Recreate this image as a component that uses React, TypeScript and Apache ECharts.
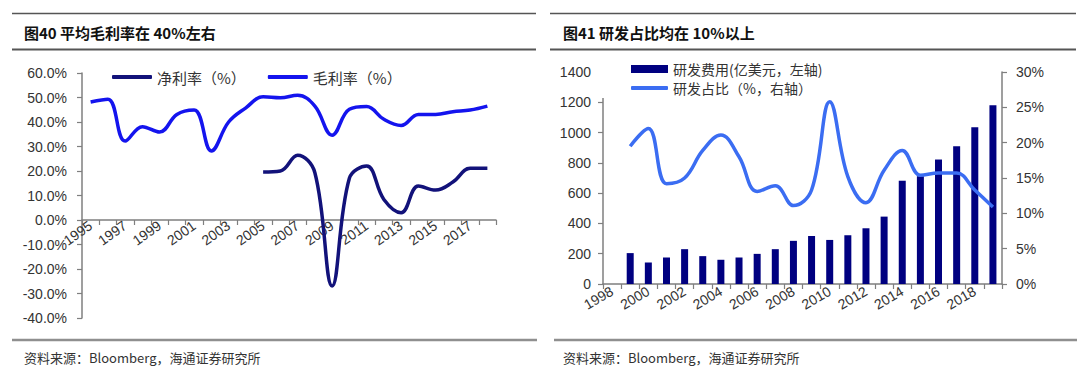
import React, { useEffect, useRef } from "react";
import * as echarts from "echarts";

// ---- Left chart data (图40) ----
const leftYears = ["1995","1996","1997","1998","1999","2000","2001","2002","2003","2004","2005","2006","2007","2008","2009","2010","2011","2012","2013","2014","2015","2016","2017","2018"];
const netMargin = [null,null,null,null,null,null,null,null,null,null,19.6,20.0,26.4,19.3,-26.9,17.0,22.0,8.4,3.0,13.9,12.2,15.5,21.1,21.1];
const grossMargin = [48.2,49.3,32.2,38.1,35.9,43.1,44.9,28.2,40.0,45.8,50.3,49.9,50.9,46.5,34.6,45.2,46.3,41.1,38.6,43.1,43.1,44.2,44.9,46.5];

// ---- Right chart data (图41) ----
const rightYears = ["1998","1999","2000","2001","2002","2003","2004","2005","2006","2007","2008","2009","2010","2011","2012","2013","2014","2015","2016","2017","2018","2019"];
const rdSpend = [null,204,142,175,230,184,160,175,199,230,285,317,291,322,368,445,682,712,822,910,1035,1180];
const rdRatio = [null,19.5,22.0,14.2,15.0,18.9,21.1,18.0,13.1,13.9,11.1,13.3,25.8,15.2,11.5,16.1,18.9,15.4,15.7,15.7,13.3,10.9];

const title1 = "图40 平均毛利率在 40%左右";
const title2 = "图41 研发占比均在 10%以上";
const source = "资料来源：Bloomberg，海通证券研究所";
const netName = "净利率（%）";
const grossName = "毛利率（%）";
const spendName = "研发费用(亿美元，左轴)";
const ratioName = "研发占比（%，右轴）";

const LATIN = "'Liberation Sans', Arial, 'Noto Sans CJK SC', sans-serif";
const CJK = "'Noto Sans CJK SC', 'Liberation Sans', sans-serif";
const AX = "#7f7f7f";
const LBL = "#333333";

export default function App() {
  const ref = useRef<HTMLDivElement>(null);
  useEffect(() => {
    if (!ref.current) return;
    const chart = echarts.init(ref.current, undefined, { renderer: "svg" });
    const tick = { show: true, length: 5, lineStyle: { color: AX, width: 1.2 } };
    const line = { show: true, onZero: false, lineStyle: { color: AX, width: 1.5 } };
    const option: any = {
      animation: false,
      backgroundColor: "#ffffff",
      textStyle: { fontFamily: LATIN },
      grid: [
        { left: 82, top: 73, width: 414, height: 245 },
        { left: 603, top: 72, width: 399, height: 212 },
      ],
      xAxis: [
        {
          type: "category", gridIndex: 0, data: leftYears, boundaryGap: true,
          position: "bottom", offset: -98,
          axisLine: line, splitLine: { show: false },
          axisTick: { ...tick, interval: 0 },
          axisLabel: { interval: 1, rotate: 35, fontSize: 14, color: LBL, fontFamily: LATIN, margin: 4 },
        },
        {
          type: "category", gridIndex: 1, data: rightYears, boundaryGap: true,
          axisLine: line, splitLine: { show: false },
          axisTick: { ...tick, interval: 0 },
          axisLabel: { interval: 1, rotate: 30, fontSize: 14, color: LBL, fontFamily: LATIN, margin: 6 },
        },
      ],
      yAxis: [
        {
          type: "value", gridIndex: 0, min: -40, max: 60, interval: 10,
          axisLine: line, axisTick: tick, splitLine: { show: false },
          axisLabel: { fontSize: 14, color: LBL, fontFamily: LATIN, margin: 15, formatter: (v: number) => v.toFixed(1) + "%" },
        },
        {
          type: "value", gridIndex: 1, min: 0, max: 1400, interval: 200,
          axisLine: line, axisTick: tick, splitLine: { show: false },
          axisLabel: { fontSize: 14, color: LBL, fontFamily: LATIN, margin: 12, formatter: (v: number) => String(v) },
        },
        {
          type: "value", gridIndex: 1, position: "right", min: 0, max: 30, interval: 5,
          axisLine: line, axisTick: tick, splitLine: { show: false },
          axisLabel: { fontSize: 14, color: LBL, fontFamily: LATIN, margin: 14, formatter: (v: number) => v + "%" },
        },
      ],
      legend: [
        {
          data: [netName, grossName], left: 112, top: 69, itemWidth: 40, itemHeight: 4,
          icon: "roundRect", itemGap: 22, padding: 0,
          textStyle: { fontFamily: CJK, fontSize: 15, color: LBL, lineHeight: 16 },
        },
        {
          data: [spendName], left: 595, top: 60, itemWidth: 37, itemHeight: 8, icon: "rect",
          padding: [1, 8, 1, 36], backgroundColor: "#ffffff",
          textStyle: { fontFamily: CJK, fontSize: 14, color: LBL, lineHeight: 16 },
        },
        {
          data: [ratioName], left: 595, top: 78, itemWidth: 37, itemHeight: 4, icon: "roundRect",
          padding: [2, 8, 2, 36], backgroundColor: "#ffffff",
          textStyle: { fontFamily: CJK, fontSize: 14, color: LBL, lineHeight: 16 },
        },
      ],
      series: [
        {
          name: netName, type: "line", xAxisIndex: 0, yAxisIndex: 0, data: netMargin,
          smooth: 0.4, symbol: "none", connectNulls: false,
          lineStyle: { color: "#12127a", width: 3.5 }, itemStyle: { color: "#12127a" },
        },
        {
          name: grossName, type: "line", xAxisIndex: 0, yAxisIndex: 0, data: grossMargin,
          smooth: 0.4, symbol: "none",
          lineStyle: { color: "#1414ee", width: 3.5 }, itemStyle: { color: "#1414ee" },
        },
        {
          name: spendName, type: "bar", xAxisIndex: 1, yAxisIndex: 1, data: rdSpend,
          barWidth: 7, itemStyle: { color: "#000080" },
        },
        {
          name: ratioName, type: "line", xAxisIndex: 1, yAxisIndex: 2, data: rdRatio,
          smooth: 0.4, symbol: "none", z: 5,
          lineStyle: { color: "#3b6df2", width: 3.5 }, itemStyle: { color: "#3b6df2" },
        },
      ],
      graphic: [
        { type: "line", shape: { x1: 12, y1: 13.5, x2: 536, y2: 13.5 }, style: { stroke: "#555", lineWidth: 1.5 } },
        { type: "line", shape: { x1: 12, y1: 49.5, x2: 536, y2: 49.5 }, style: { stroke: "#555", lineWidth: 2 } },
        { type: "line", shape: { x1: 550, y1: 13.5, x2: 1076, y2: 13.5 }, style: { stroke: "#555", lineWidth: 1.5 } },
        { type: "line", shape: { x1: 550, y1: 49.5, x2: 1076, y2: 49.5 }, style: { stroke: "#555", lineWidth: 2 } },
        { type: "text", x: 24, y: 32, style: { text: title1, font: "bold 15px " + CJK, fill: "#111", textVerticalAlign: "middle" } },
        { type: "text", x: 563, y: 32, style: { text: title2, font: "bold 15px " + CJK, fill: "#111", textVerticalAlign: "middle" } },
        { type: "line", shape: { x1: 12, y1: 340, x2: 537, y2: 340 }, style: { stroke: "#8f8f8f", lineWidth: 2.5 } },
        { type: "line", shape: { x1: 554, y1: 340, x2: 1077, y2: 340 }, style: { stroke: "#8f8f8f", lineWidth: 2.5 } },
        { type: "text", x: 24, y: 357, style: { text: source, font: "13px " + CJK, fill: "#333", textVerticalAlign: "middle" } },
        { type: "text", x: 563, y: 357, style: { text: source, font: "13px " + CJK, fill: "#333", textVerticalAlign: "middle" } },
      ],
    };
    chart.setOption(option);
    return () => chart.dispose();
  }, []);
  return <div ref={ref} style={{ position: "fixed", left: 0, top: 0, width: 1080, height: 380, background: "#fff" }} />;
}
